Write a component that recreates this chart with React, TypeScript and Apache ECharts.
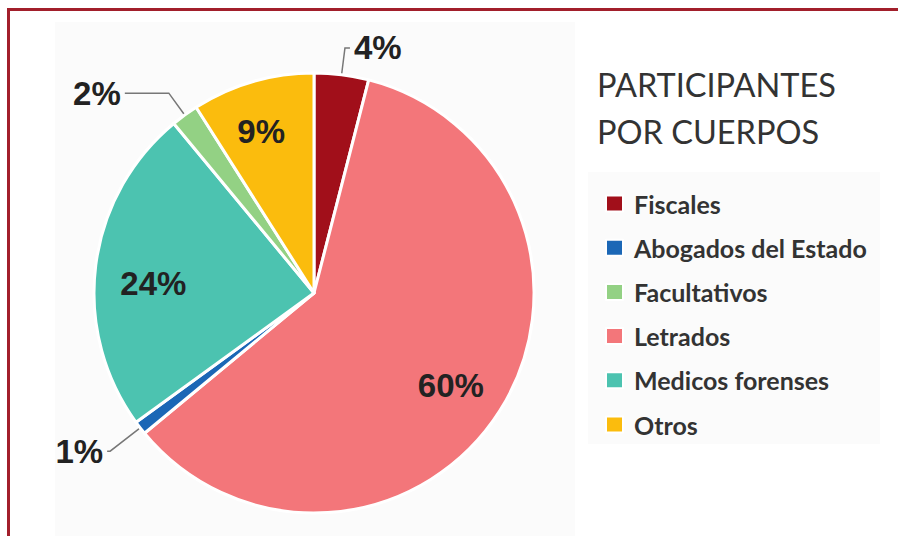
import React, { useEffect, useRef } from "react";
import * as echarts from "echarts";

const categories = ["Fiscales", "Letrados", "Abogados del Estado", "Medicos forenses", "Facultativos", "Otros"];
const values = [4, 60, 1, 24, 2, 9];
const colors = ["#a10f1a", "#f3767a", "#1b67b6", "#4cc3b0", "#93d184", "#fbbc0d"];
const legendOrder = ["Fiscales", "Abogados del Estado", "Facultativos", "Letrados", "Medicos forenses", "Otros"];
const outsideLabels = ["Fiscales", "Abogados del Estado", "Facultativos"];
const titleText = "PARTICIPANTES\nPOR CUERPOS";

export default function App() {
  const ref = useRef<HTMLDivElement>(null);
  useEffect(() => {
    document.body.style.margin = "0";
    const chart = echarts.init(ref.current!, null, { renderer: "svg" });
    const lineCfg: Record<string, { length: number; length2: number }> = {
      Fiscales: { length: 27, length2: 5 },
      Facultativos: { length: 27, length2: 44 },
      "Abogados del Estado": { length: 38, length2: 3 },
    };
    const labelOffsets: Record<string, number[]> = {
      "Medicos forenses": [6, 12],
      Letrados: [-5, 2],
      Otros: [-6, 0],
    };
    const labelFont = {
      fontFamily: "Liberation Sans, Arial, sans-serif",
      fontWeight: "bold" as const,
      fontSize: 33,
      color: "#222",
      formatter: "{c}%",
    };
    const mainData = categories.map((name, i) => {
      const out = outsideLabels.includes(name);
      return {
        name,
        value: values[i],
        itemStyle: { color: colors[i] },
        label: { show: out, position: "outside", ...labelFont, distanceToLabelLine: 4 },
        labelLine: {
          show: out,
          length: out ? lineCfg[name].length : 10,
          length2: out ? lineCfg[name].length2 : 10,
          lineStyle: { color: "#777", width: 1.5 },
        },
      };
    });
    const overlayData = categories.map((name, i) => {
      const out = outsideLabels.includes(name);
      return {
        name,
        value: values[i],
        itemStyle: { color: "rgba(0,0,0,0)", borderWidth: 0 },
        label: { show: !out, position: "inside", ...labelFont, offset: labelOffsets[name] || [0, 0] },
        labelLine: { show: false },
      };
    });
    chart.setOption({
      animation: false,
      backgroundColor: "#ffffff",
      title: {
        text: titleText,
        left: 592,
        top: 56,
        textStyle: {
          fontFamily: "Lato, sans-serif",
          fontWeight: "normal",
          fontSize: 32.5,
          lineHeight: 47,
          color: "#333",
        },
      },
      legend: {
        orient: "vertical",
        left: 600,
        top: 186,
        itemWidth: 17,
        itemHeight: 16,
        itemGap: 19.2,
        icon: "rect",
        selectedMode: false,
        data: legendOrder.map((n) => ({
          name: n,
          itemStyle: { color: colors[categories.indexOf(n)] },
        })),
        textStyle: {
          fontFamily: "Lato, sans-serif",
          fontWeight: "bold",
          fontSize: 25,
          lineHeight: 24,
          color: "#333",
          padding: [0, 0, 0, 6],
        },
      },
      graphic: [
        { type: "rect", shape: { x: 55, y: 22, width: 520, height: 520 }, style: { fill: "#fbfbfb" }, z: -10 },
        { type: "rect", shape: { x: 588, y: 172, width: 292, height: 272 }, style: { fill: "#fbfbfb" }, z: -10 },
        { type: "line", shape: { x1: 8, y1: 9.5, x2: 898, y2: 9.5 }, style: { stroke: "#a21f2b", lineWidth: 3 } },
        { type: "line", shape: { x1: 8.5, y1: 8, x2: 8.5, y2: 536 }, style: { stroke: "#a21f2b", lineWidth: 3 } },
      ],
      series: [
        {
          type: "pie",
          center: [314, 293],
          radius: [0, 220],
          startAngle: 90,
          clockwise: true,
          avoidLabelOverlap: false,
          silent: true,
          itemStyle: { borderColor: "#ffffff", borderWidth: 3 },
          emphasis: { disabled: true },
          data: mainData,
        },
        {
          type: "pie",
          center: [314, 293],
          radius: [110, 220],
          startAngle: 90,
          clockwise: true,
          avoidLabelOverlap: false,
          silent: true,
          emphasis: { disabled: true },
          data: overlayData,
          z: 3,
        },
      ],
    });
    return () => chart.dispose();
  }, []);
  return <div ref={ref} style={{ position: "fixed", left: 0, top: 0, width: 898, height: 536 }} />;
}
